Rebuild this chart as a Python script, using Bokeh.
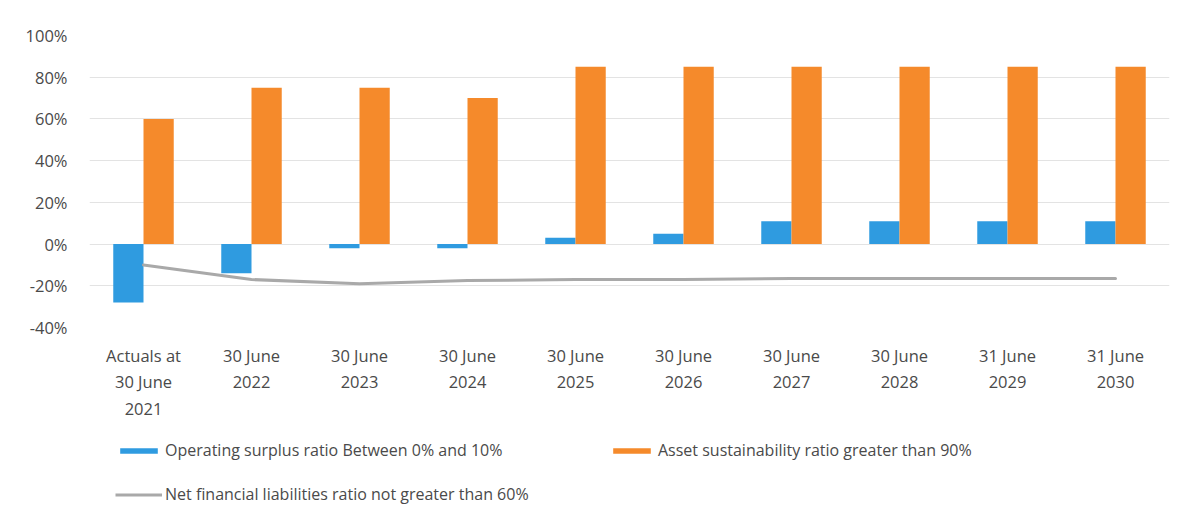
from bokeh.plotting import figure
from bokeh.layouts import column
from bokeh.models import (FactorRange, Range1d, FixedTicker, PrintfTickFormatter,
                          Legend, LegendItem)
from bokeh.transform import dodge
from bokeh.embed import file_html
from bokeh.resources import INLINE

# Financial sustainability ratios, actual and projected
periods = ["Actuals at\n30 June\n2021", "30 June\n2022", "30 June\n2023", "30 June\n2024",
           "30 June\n2025", "30 June\n2026", "30 June\n2027", "30 June\n2028",
           "31 June\n2029", "31 June\n2030"]
operating_surplus = [-28, -14, -2, -2, 3, 5, 11, 11, 11, 11]
asset_sustainability = [60, 75, 75, 70, 85, 85, 85, 85, 85, 85]
net_financial_liabilities = [-10, -17, -19, -17.5, -17, -17, -16.5, -16.5, -16.5, -16.5]
y_ticks = [-40, -20, 0, 20, 40, 60, 80, 100]

label_names = ["Operating surplus ratio Between 0% and 10%",
               "Asset sustainability ratio greater than 90%",
               "Net financial liabilities ratio not greater than 60%"]

BLUE = "#2f9be0"
ORANGE = "#f58a2b"
GREY = "#a9a9a9"
TEXT = "#4a4a4a"
FONT = "Open Sans"
W = 1195
CHART_H = 430
LEGEND_H = 528 - CHART_H

p = figure(x_range=FactorRange(*periods, range_padding=0), y_range=Range1d(-40, 100),
           width=W, height=CHART_H, output_backend="svg", toolbar_location=None,
           min_border_left=89, min_border_right=26, min_border_top=35,
           min_border_bottom=103)
p.outline_line_color = None
p.background_fill_color = "white"
p.border_fill_color = "white"

data = dict(period=periods, ops=operating_surplus, asr=asset_sustainability,
            nfl=net_financial_liabilities)

p.vbar(x=dodge("period", -0.14, range=p.x_range), top="ops", width=0.28,
       source=data, fill_color=BLUE, line_color=None)
p.vbar(x=dodge("period", 0.14, range=p.x_range), top="asr", width=0.28,
       source=data, fill_color=ORANGE, line_color=None)
p.line(x="period", y="nfl", source=data, line_color=GREY, line_width=3,
       line_join="round", line_cap="round")

# Axes
p.yaxis.ticker = FixedTicker(ticks=y_ticks)
p.yaxis.formatter = PrintfTickFormatter(format="%d%%")
for ax in (p.xaxis[0], p.yaxis[0]):
    ax.axis_line_color = None
    ax.major_tick_line_color = None
    ax.minor_tick_line_color = None
    ax.major_label_text_font = FONT
    ax.major_label_text_font_size = "16.5px"
    ax.major_label_text_color = TEXT
p.yaxis.major_label_standoff = 16
p.xaxis.major_label_standoff = 10
p.xaxis.major_label_text_line_height = 1.17
p.xaxis.group_text_font_size = "0px"

p.xgrid.grid_line_color = None
p.ygrid.grid_line_color = "#e3e3e3"
p.ygrid.grid_line_width = 1

# Legend strip beneath the chart (its frame lines up with the chart's frame)
leg = figure(width=W, height=LEGEND_H, x_range=Range1d(0, 1), y_range=Range1d(0, 1),
             output_backend="svg", toolbar_location=None,
             min_border_left=0, min_border_right=0, min_border_top=0, min_border_bottom=0)
leg.axis.visible = False
leg.grid.visible = False
leg.outline_line_color = None
leg.border_fill_color = "white"

# Key renderers: styled like the chart's series, holding no visible points
nan = float("nan")
key = dict(x=[nan], y=[nan])
k_blue = leg.vbar(x="x", top="y", width=0.1, source=key, fill_color=BLUE, line_color=None)
k_orange = leg.vbar(x="x", top="y", width=0.1, source=key, fill_color=ORANGE, line_color=None)
k_line = leg.line(x="x", y="y", source=key, line_color=GREY, line_width=3)


def make_legend(renderer, name, loc):
    lg = Legend(items=[LegendItem(label=name, renderers=[renderer])], location=loc,
                orientation="horizontal", padding=0, margin=0, spacing=0,
                border_line_color=None, background_fill_alpha=0,
                glyph_width=47, glyph_height=7, label_height=16, label_standoff=3,
                label_text_font=FONT, label_text_font_size="16px",
                label_text_color=TEXT)
    leg.add_layout(lg, "center")


make_legend(k_blue, label_names[0], (26, 67))
make_legend(k_orange, label_names[1], (519, 67))
make_legend(k_line, label_names[2], (26, 23))

open("out.html", "w").write(file_html(column(p, leg, spacing=0), INLINE))
